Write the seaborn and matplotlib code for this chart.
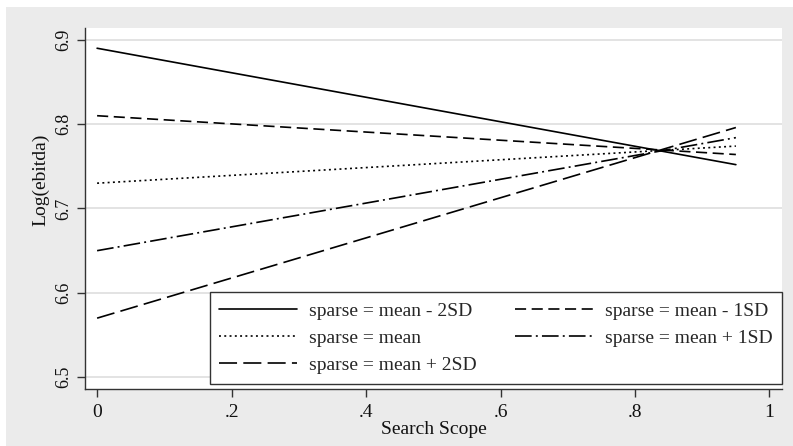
import matplotlib
matplotlib.use("Agg")
import matplotlib.pyplot as plt
from matplotlib.patches import Rectangle
import seaborn as sns
import pandas as pd

# Predicted Log(ebitda) across search scope at five levels of sparseness
scope = [0.0, 0.95]
mean_minus_2sd = [6.890, 6.752]
mean_minus_1sd = [6.810, 6.764]
mean_level = [6.730, 6.774]
mean_plus_1sd = [6.650, 6.784]
mean_plus_2sd = [6.570, 6.796]

labels = ["sparse = mean - 2SD", "sparse = mean - 1SD", "sparse = mean",
          "sparse = mean + 1SD", "sparse = mean + 2SD"]
series = [mean_minus_2sd, mean_minus_1sd, mean_level, mean_plus_1sd, mean_plus_2sd]

x_ticks = [0, 0.2, 0.4, 0.6, 0.8, 1.0]
x_tick_labels = ["0", ".2", ".4", ".6", ".8", "1"]
y_ticks = [6.5, 6.6, 6.7, 6.8, 6.9]
y_tick_labels = ["6.5", "6.6", "6.7", "6.8", "6.9"]

rows = []
for lab, vals in zip(labels, series):
    for xv, yv in zip(scope, vals):
        rows.append({"scope": xv, "value": yv, "group": lab})
df = pd.DataFrame(rows)

sns.set_style("white")
plt.rcParams["font.family"] = ["Liberation Serif", "DejaVu Serif"]
plt.rcParams["lines.scale_dashes"] = False

W, H = 793, 446
fig = plt.figure(figsize=(W / 100, H / 100), dpi=100)
fig.patch.set_facecolor("white")
# light gray graph region with a thin white border at top and left
fig.add_artist(Rectangle((6 / W, 0), 1, (H - 7) / H, transform=fig.transFigure,
                         facecolor="#ebebeb", edgecolor="none", zorder=-10))

ax = fig.add_axes([85 / W, (H - 389) / H, (782 - 85) / W, (389 - 28) / H])
ax.set_zorder(1)
ax.set_facecolor("white")

dash_styles = {
    labels[0]: "",
    labels[1]: (8, 4),
    labels[2]: (1.4, 2.4),
    labels[3]: (12, 3, 1.4, 3),
    labels[4]: (13, 4.5),
}

sns.lineplot(data=df, x="scope", y="value", style="group", style_order=labels,
             dashes=dash_styles, color="black", linewidth=1.2, ax=ax,
             legend=False)

ax.set_xlim(-0.018, 1.0186)
ax.set_ylim(6.486, 6.914)
ax.set_xticks(x_ticks)
ax.set_xticklabels(x_tick_labels)
ax.set_yticks(y_ticks)
ax.set_yticklabels(y_tick_labels, rotation=90, va="center")

for yv in y_ticks:
    ax.axhline(yv, color="#e0e0e0", linewidth=1.3, zorder=0)

for side in ["top", "right"]:
    ax.spines[side].set_visible(False)
for side in ["left", "bottom"]:
    ax.spines[side].set_color("#333333")
    ax.spines[side].set_linewidth(1.0)

ax.tick_params(axis="both", direction="out", length=5.5, width=1.0,
               color="#333333", labelcolor="#111111", left=True, bottom=True)
ax.tick_params(axis="x", labelsize=14, pad=5)
ax.tick_params(axis="y", labelsize=13, pad=4)
ax.set_xlabel("Search Scope", fontsize=14, labelpad=0, color="#111111")
ax.set_ylabel("Log(ebitda)", fontsize=14, color="#111111")
ax.yaxis.set_label_coords(-0.051, 0.58)

# Legend laid out row-wise in two columns
handles = ax.get_lines()[:5]
order = [0, 2, 4, 1, 3]
leg = ax.legend([handles[i] for i in order], [labels[i] for i in order],
                ncol=2, loc="lower right", bbox_to_anchor=(1.0, 0.014),
                borderaxespad=0, fontsize=14, frameon=True, fancybox=False,
                handlelength=4.0, handletextpad=0.6, columnspacing=2.0,
                labelspacing=0.5, borderpad=0.5)
leg.get_frame().set_edgecolor("#333333")
leg.get_frame().set_linewidth(1.0)
leg.get_frame().set_facecolor("white")
leg.get_frame().set_alpha(1)

fig.savefig("out.png", dpi=100, facecolor=fig.get_facecolor())
